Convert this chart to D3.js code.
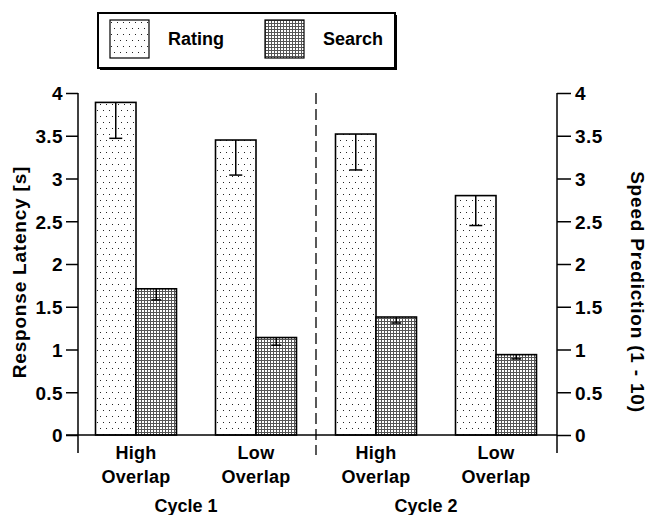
<!DOCTYPE html>
<html>
<head>
<meta charset="utf-8">
<script src="https://cdn.jsdelivr.net/npm/d3@7"></script>
<style>
  body { margin: 0; background: #fff; }
  svg text { font-family: "Liberation Sans", Arial, sans-serif; font-weight: bold; fill: #000; }
</style>
</head>
<body>
<svg id="chart"></svg>
<script>
  // values
  const conditions = ["C1 High", "C1 Low", "C2 High", "C2 Low"];
  const conditionLabels = [["High", "Overlap"], ["Low", "Overlap"], ["High", "Overlap"], ["Low", "Overlap"]];
  const cycles = ["Cycle 1", "Cycle 2"];
  const series = ["Rating", "Search"];
  const ratingValues = [3.89, 3.45, 3.52, 2.8];
  const ratingErrors = [0.42, 0.41, 0.42, 0.35];
  const searchValues = [1.71, 1.14, 1.38, 0.94];
  const searchErrors = [0.13, 0.09, 0.07, 0.05];
  const yTicks = [0, 0.5, 1, 1.5, 2, 2.5, 3, 3.5, 4];

  const width = 647, height = 515;
  const svg = d3.select("#chart").attr("width", width).attr("height", height);

  const x = d3.scaleBand().domain(conditions).range([76, 556])
    .paddingInner(0.325).paddingOuter(0.1625);
  const xs = d3.scaleBand().domain(series).range([0, x.bandwidth()]);
  const y = d3.scaleLinear().domain([0, 4]).range([435, 93]);

  // fill patterns
  const defs = svg.append("defs");
  const dots = defs.append("pattern").attr("id", "dots")
    .attr("patternUnits", "userSpaceOnUse").attr("width", 6).attr("height", 12);
  dots.append("rect").attr("width", 6).attr("height", 12).attr("fill", "#fff");
  dots.append("rect").attr("x", 1).attr("y", 2).attr("width", 1).attr("height", 1).attr("fill", "#222");
  dots.append("rect").attr("x", 4).attr("y", 8).attr("width", 1).attr("height", 1).attr("fill", "#222");

  const mesh = defs.append("pattern").attr("id", "mesh")
    .attr("patternUnits", "userSpaceOnUse").attr("width", 3).attr("height", 3);
  mesh.append("rect").attr("width", 3).attr("height", 3).attr("fill", "#555");
  mesh.append("rect").attr("x", 1).attr("y", 1).attr("width", 2).attr("height", 2).attr("fill", "#fff");

  const fills = { Rating: "url(#dots)", Search: "url(#mesh)" };

  const rows = conditions.map((c, i) => [
    { cond: c, s: "Rating", v: ratingValues[i], e: ratingErrors[i], cap: 13 },
    { cond: c, s: "Search", v: searchValues[i], e: searchErrors[i], cap: 10 }
  ]).flat();

  // bars
  svg.append("g").selectAll("rect").data(rows).join("rect")
    .attr("x", d => x(d.cond) + xs(d.s))
    .attr("y", d => y(d.v))
    .attr("width", xs.bandwidth())
    .attr("height", d => y(0) - y(d.v))
    .attr("fill", d => fills[d.s])
    .attr("stroke", "#000").attr("stroke-width", 1.6);

  // error bars (lower half only, the upper half sits above the bar)
  const eb = svg.append("g").attr("stroke", "#000").attr("stroke-width", 1.5);
  eb.selectAll(".stem").data(rows).join("line")
    .attr("x1", d => x(d.cond) + xs(d.s) + xs.bandwidth() / 2)
    .attr("x2", d => x(d.cond) + xs(d.s) + xs.bandwidth() / 2)
    .attr("y1", d => y(d.v)).attr("y2", d => y(d.v - d.e));
  eb.selectAll(".cap").data(rows).join("line")
    .attr("x1", d => x(d.cond) + xs(d.s) + xs.bandwidth() / 2 - d.cap / 2)
    .attr("x2", d => x(d.cond) + xs(d.s) + xs.bandwidth() / 2 + d.cap / 2)
    .attr("y1", d => y(d.v - d.e)).attr("y2", d => y(d.v - d.e));

  // axes
  const left = svg.append("g").attr("transform", "translate(78,0)")
    .call(d3.axisLeft(y).tickValues(yTicks).tickSize(12).tickSizeOuter(0).tickFormat(d3.format("")));
  const right = svg.append("g").attr("transform", "translate(557,0)")
    .call(d3.axisRight(y).tickValues(yTicks).tickSize(14).tickSizeOuter(0).tickFormat(d3.format("")));
  [left, right].forEach(g => {
    g.select(".domain").remove();
    g.selectAll(".tick line").attr("stroke", "#000").attr("stroke-width", 1.5);
    g.selectAll(".tick text").style("font-size", "19px").style("letter-spacing", "0.4px").attr("dy", "0.36em");
  });
  left.selectAll(".tick text").attr("x", -15);
  right.selectAll(".tick text").attr("x", 18);

  const frame = svg.append("g").attr("stroke", "#000").attr("stroke-width", 1.5);
  frame.append("line").attr("x1", 78).attr("x2", 78).attr("y1", y(4)).attr("y2", 453);
  frame.append("line").attr("x1", 557).attr("x2", 557).attr("y1", y(4)).attr("y2", 453);
  frame.append("line").attr("x1", 66).attr("x2", 557).attr("y1", y(0)).attr("y2", y(0));

  // cycle divider
  const divX = (x(conditions[1]) + x.bandwidth() + x(conditions[2])) / 2;
  svg.append("line").attr("x1", divX).attr("x2", divX).attr("y1", y(4)).attr("y2", 455)
    .attr("stroke", "#000").attr("stroke-width", 1.3).attr("stroke-dasharray", "11,5");

  // category labels
  const cat = svg.append("g").selectAll("text").data(conditions).join("text")
    .attr("x", d => x(d) + x.bandwidth() / 2)
    .attr("text-anchor", "middle").style("font-size", "18px").style("letter-spacing", "0.3px");
  cat.append("tspan").attr("x", d => x(d) + x.bandwidth() / 2).attr("y", 459)
    .text((d, i) => conditionLabels[i][0]);
  cat.append("tspan").attr("x", d => x(d) + x.bandwidth() / 2).attr("y", 483)
    .text((d, i) => conditionLabels[i][1]);

  svg.append("g").selectAll("text").data(cycles).join("text")
    .attr("x", (d, i) => (x(conditions[i * 2]) + x(conditions[i * 2 + 1]) + x.bandwidth()) / 2 - 10)
    .attr("y", 512).attr("text-anchor", "middle").style("font-size", "18px")
    .text(d => d);

  // axis titles
  svg.append("text").attr("transform", "translate(26,272) rotate(-90)")
    .attr("text-anchor", "middle").style("font-size", "19px").style("letter-spacing", "0.8px")
    .text("Response Latency [s]");
  svg.append("text").attr("transform", "translate(631,292) rotate(90)")
    .attr("text-anchor", "middle").style("font-size", "19px").style("letter-spacing", "0.8px")
    .text("Speed Prediction (1 - 10)");

  // legend
  const lg = svg.append("g");
  lg.append("rect").attr("x", 100).attr("y", 15).attr("width", 297).attr("height", 55).attr("fill", "#000");
  lg.append("rect").attr("x", 98).attr("y", 13).attr("width", 297).attr("height", 55)
    .attr("fill", "#fff").attr("stroke", "#000").attr("stroke-width", 2);
  const items = lg.selectAll(".item").data(series).join("g")
    .attr("transform", (d, i) => `translate(${[110, 265][i]},20)`);
  items.append("rect").attr("width", 39).attr("height", 38)
    .attr("fill", d => fills[d]).attr("stroke", "#000").attr("stroke-width", 1.2);
  items.append("text").attr("x", 58).attr("y", 19).attr("dy", "0.36em")
    .style("font-size", "18px").text(d => d);
</script>
</body>
</html>
